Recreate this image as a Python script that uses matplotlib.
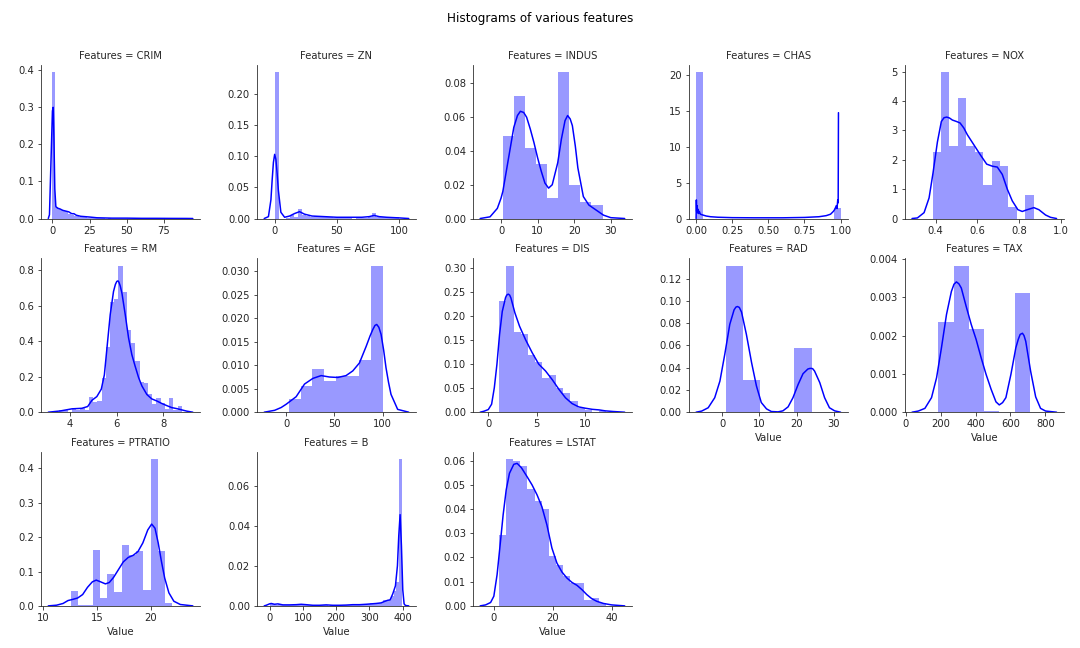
import numpy as np
import matplotlib
matplotlib.use("Agg")
import matplotlib.pyplot as plt
import seaborn as sns

# histogram: (min, max) of the data and the density of each bin
crim_range = (0.006, 88.976)
crim_hist = [0.395, 0.03, 0.026, 0.022, 0.02, 0.018, 0.012, 0.01, 0.007, 0.006,
             0.004, 0.003, 0.003, 0.002, 0.002, 0.002, 0.001, 0.001, 0.001, 0.001,
             0.0, 0.001, 0.0, 0.0, 0.0, 0.0, 0.0, 0.0, 0.0, 0.0,
             0.0, 0.0, 0.0, 0.0, 0.0, 0.0, 0.0, 0.0, 0.0, 0.0,
             0.0, 0.0, 0.0, 0.0, 0.0, 0.0, 0.0, 0.0, 0.0, 0.001]
crim_kde_x = [-2.8, -2.0, -1.0, 0.0, 0.5, 1.0, 1.6, 2.3, 3.5, 5.0, 7.0, 9.0, 11.0, 13.0,
              14.5, 16.0, 19.0, 25.0, 30.0, 40.0, 50.0, 60.0, 70.0, 80.0, 90.0, 94.5]
crim_kde_y = [0.0, 0.01, 0.15, 0.29, 0.30, 0.22, 0.08, 0.032, 0.028, 0.026, 0.022, 0.02, 0.018, 0.013,
              0.013, 0.009, 0.006, 0.004, 0.002, 0.001, 0.001, 0.0005, 0.0005, 0.0003, 0.0002, 0.0]

zn_range = (0.0, 100.0)
zn_hist = [0.235, 0.0, 0.0, 0.001, 0.006, 0.002, 0.016, 0.006, 0.004, 0.003,
           0.004, 0.002, 0.002, 0.002, 0.002, 0.001, 0.001, 0.003, 0.002, 0.001,
           0.0, 0.001, 0.001, 0.001, 0.002, 0.009, 0.002, 0.002, 0.002, 0.002,
           0.002, 0.002]
zn_kde_x = [-8.4, -5, -3, -2, -1, 0, 1, 2, 3, 5, 8, 12, 16, 20, 24, 30, 40, 50, 60, 70, 76, 80,
            84, 90, 100, 107.8]
zn_kde_y = [0, 0.003, 0.03, 0.062, 0.09, 0.103, 0.095, 0.072, 0.045, 0.01, 0.002, 0.004, 0.008,
            0.011, 0.007, 0.004, 0.003, 0.002, 0.002, 0.002, 0.003, 0.005, 0.003, 0.002, 0.001, 0]

indus_range = (0.46, 27.74)
indus_hist = [0.049, 0.0725, 0.042, 0.032, 0.012, 0.0867, 0.0196, 0.0096, 0.0078]
indus_kde_x = [-5.7, -3, -1, 0, 0.5, 2, 3.5, 4.5, 5.3, 6.2, 7, 8, 9, 10, 11, 12, 13, 14, 15.5,
               16.5, 17.5, 18.2, 18.9, 19.5, 20.3, 21, 22.5, 24, 26, 28, 30, 33.8]
indus_kde_y = [0, 0.001, 0.006, 0.012, 0.016, 0.035, 0.054, 0.061, 0.0635, 0.0628, 0.06, 0.053,
               0.045, 0.036, 0.028, 0.021, 0.018, 0.02, 0.033, 0.047, 0.058, 0.061, 0.059,
               0.055, 0.043, 0.03, 0.013, 0.008, 0.005, 0.002, 0.0005, 0]

chas_range = (0.0, 1.0)
chas_hist = [20.47] + [0.0] * 20 + [1.52]
chas_kde_x = [0.0, 0.002, 0.004, 0.007, 0.01, 0.013, 0.017, 0.022, 0.03, 0.045, 0.07, 0.1,
              0.15, 0.25, 0.4, 0.6, 0.75, 0.85, 0.9, 0.93, 0.95, 0.96, 0.97, 0.975, 0.98,
              0.983, 0.985]
chas_kde_y = [0.0, 2.6, 1.0, 1.8, 0.8, 1.3, 0.7, 1.0, 0.6, 0.5, 0.35, 0.25,
              0.18, 0.12, 0.1, 0.1, 0.15, 0.25, 0.4, 0.6, 1.0, 1.3, 1.8, 1.4, 2.6,
              2.2, 14.8]

nox_range = (0.385, 0.871)
nox_hist = [2.27, 4.98, 2.48, 4.1, 2.48, 2.27, 1.13, 1.94, 1.8, 0.38, 0.0, 0.79]
nox_kde_x = [0.286, 0.312, 0.344, 0.368, 0.387, 0.408, 0.427, 0.44, 0.453, 0.466, 0.48, 0.5,
             0.517, 0.535, 0.552, 0.584, 0.616, 0.645, 0.672, 0.696, 0.72, 0.744, 0.768, 0.795,
             0.816, 0.84, 0.872, 0.896, 0.928, 0.952, 0.981]
nox_kde_y = [0, 0.02, 0.2, 0.7, 1.55, 2.6, 3.3, 3.43, 3.45, 3.42, 3.35, 3.3, 3.25, 3.08,
             2.85, 2.5, 2.15, 1.85, 1.78, 1.75, 1.5, 1.0, 0.6, 0.3, 0.24, 0.3, 0.37, 0.3,
             0.12, 0.04, 0]

rm_range = (3.561, 8.78)
rm_hist = [0.011, 0.011, 0.0, 0.022, 0.011, 0.022, 0.011, 0.088, 0.06, 0.065,
           0.19, 0.37, 0.62, 0.64, 0.825, 0.68, 0.465, 0.39, 0.29, 0.17,
           0.165, 0.1, 0.047, 0.078, 0.05, 0.02, 0.078, 0.01, 0.034]
rm_kde_x = [3.09, 3.6, 4.1, 4.52, 4.77, 4.95, 5.16, 5.35, 5.48, 5.59, 5.73, 5.87, 5.95, 6.01,
            6.06, 6.1, 6.16, 6.23, 6.37, 6.51, 6.65, 6.79, 6.94, 7.08, 7.29, 7.5, 7.72, 7.93,
            8.14, 8.35, 8.57, 8.78, 8.99, 9.25]
rm_kde_y = [0, 0.007, 0.019, 0.022, 0.032, 0.067, 0.088, 0.13, 0.21, 0.36, 0.55, 0.68, 0.72,
            0.737, 0.74, 0.733, 0.71, 0.67, 0.55, 0.42, 0.325, 0.26, 0.195, 0.148, 0.1, 0.075,
            0.063, 0.049, 0.037, 0.026, 0.02, 0.013, 0.006, 0]

age_range = (2.9, 100.0)
age_hist = [0.0028, 0.0055, 0.0093, 0.0066, 0.0078, 0.0078, 0.0112, 0.0312]
age_kde_x = [-22.8, -12, -5.2, 0, 10.3, 19, 27.6, 36.2, 44.8, 53.4, 62, 69, 75.9, 82.8,
             87, 89.7, 92, 93.8, 96, 98.3, 101, 103.4, 106, 108.6, 115.5, 127]
age_kde_y = [0, 0.0004, 0.001, 0.0017, 0.0033, 0.006, 0.0072, 0.0078, 0.0075, 0.0074, 0.0078,
             0.0088, 0.0105, 0.014, 0.0163, 0.0176, 0.0185, 0.0187, 0.0181, 0.0166, 0.0132,
             0.0095, 0.0064, 0.0038, 0.0006, 0]

dis_range = (1.13, 12.13)
dis_hist = [0.232, 0.305, 0.168, 0.162, 0.12, 0.104, 0.0705, 0.077, 0.051, 0.041,
            0.0235, 0.0097, 0.004, 0.0014, 0.002]
dis_kde_x = [-0.84, -0.45, 0, 0.34, 0.62, 0.89, 1.16, 1.44, 1.78, 1.9, 2.05, 2.2, 2.33, 2.74,
             3.22, 3.84, 4.52, 5.2, 5.89, 6.58, 7.26, 7.95, 8.63, 9.32, 10.0, 10.7, 11.4,
             12.05, 12.9, 14.05]
dis_kde_y = [0, 0.002, 0.0055, 0.0166, 0.051, 0.1, 0.162, 0.21, 0.239, 0.244, 0.246, 0.244,
             0.238, 0.207, 0.179, 0.151, 0.124, 0.1, 0.086, 0.068, 0.048, 0.03, 0.018, 0.011,
             0.0083, 0.006, 0.0048, 0.0028, 0.0014, 0]

rad_range = (1.0, 24.0)
rad_hist = [0.1316, 0.029, 0.0, 0.0, 0.0573]
rad_kde_x = [-7.0, -5.5, -3.75, -2, -0.6, 0.7, 2.05, 3.2, 3.7, 4.1, 4.6, 5.2, 6.5, 7.9, 9.2,
             10.5, 11.9, 13.2, 15, 16.3, 17.7, 19, 20.4, 21.7, 23, 23.5, 23.9, 24.3, 24.8,
             26.2, 27.5, 28.8, 30.2, 31.8]
rad_kde_y = [0, 0.001, 0.004, 0.013, 0.028, 0.052, 0.079, 0.092, 0.0945, 0.095, 0.0942, 0.09,
             0.07, 0.0445, 0.0236, 0.0087, 0.003, 0.0006, 0.0003, 0.0012, 0.0048, 0.013,
             0.025, 0.0346, 0.0388, 0.0393, 0.0394, 0.0391, 0.037, 0.0266, 0.013, 0.004,
             0.0012, 0]

tax_range = (187.0, 711.0)
tax_hist = [0.00236, 0.00382, 0.00216, 0.00003, 0.0, 0.00312]
tax_kde_x = [35, 71, 109, 147, 176, 204, 233, 261, 276, 290, 304, 318, 346, 375, 403, 432, 460,
             489, 517, 536, 555, 574, 603, 631, 645, 656, 669, 678, 688, 716, 745, 773, 802, 865]
tax_kde_y = [0, 0.00003, 0.0001, 0.00038, 0.0009, 0.00168, 0.00255, 0.00315, 0.00334, 0.0034,
             0.00335, 0.00324, 0.00276, 0.00229, 0.0019, 0.00142, 0.00099, 0.0006, 0.00027,
             0.00019, 0.00025, 0.00038, 0.00099, 0.00168, 0.0019, 0.00203, 0.00206, 0.002,
             0.00185, 0.00107, 0.0004, 0.0001, 0.00003, 0]

ptratio_range = (12.6, 22.0)
ptratio_hist = [0.0435, 0.003, 0.003, 0.162, 0.023, 0.094, 0.039, 0.177, 0.148, 0.159,
                0.046, 0.426, 0.159, 0.007]
ptratio_kde_x = [10.5, 11.27, 11.87, 12.33, 12.78, 13.23, 13.69, 14.14, 14.59, 14.95, 15.35,
                 15.8, 16.16, 16.56, 17.0, 17.46, 17.92, 18.37, 18.82, 19.27, 19.73, 20.09,
                 20.4, 20.7, 21.0, 21.3, 21.69, 22.15, 22.75, 23.91]
ptratio_kde_y = [0, 0.002, 0.007, 0.0155, 0.019, 0.023, 0.033, 0.054, 0.07, 0.075, 0.07,
                 0.064, 0.068, 0.083, 0.105, 0.128, 0.141, 0.147, 0.158, 0.183, 0.221, 0.238,
                 0.226, 0.183, 0.129, 0.081, 0.038, 0.0135, 0.004, 0]

b_range = (0.32, 396.9)
b_hist = [0.0012, 0.0008, 0.0005, 0.0008, 0.0003, 0.0003, 0.0005, 0.0003, 0.0003, 0.0003,
          0.0005, 0.0008, 0.0005, 0.0003, 0.0003, 0.0003, 0.0, 0.0003, 0.0, 0.0003,
          0.0003, 0.0005, 0.0, 0.0003, 0.0003, 0.0, 0.0003, 0.0003, 0.0003, 0.0003,
          0.0005, 0.0005, 0.0005, 0.0005, 0.0008, 0.0008, 0.0008, 0.001, 0.0012, 0.001,
          0.0015, 0.0015, 0.002, 0.003, 0.003, 0.003, 0.005, 0.0075, 0.012, 0.073]
b_kde_x = [-16, -10, 0, 5, 15, 25, 40, 60, 80, 95, 110, 130, 150, 170, 190, 210, 230, 250,
           270, 290, 305, 320, 335, 345, 355, 362, 370, 378, 384, 388, 392, 396, 400, 404,
           408, 418]
b_kde_y = [0, 0.0003, 0.001, 0.0012, 0.0008, 0.001, 0.0005, 0.0005, 0.0006, 0.0008, 0.0006,
           0.0003, 0.0003, 0.0005, 0.0003, 0.0003, 0.0004, 0.0006, 0.0006, 0.0008, 0.001,
           0.0012, 0.0015, 0.0022, 0.0028, 0.003, 0.006, 0.01, 0.02, 0.035, 0.0455, 0.03,
           0.008, 0.001, 0.0002, 0]

lstat_range = (1.73, 37.97)
lstat_hist = [0.0292, 0.0605, 0.0597, 0.058, 0.0483, 0.0434, 0.0401, 0.0207, 0.0168, 0.0124,
              0.0093, 0.0093, 0.0025, 0.0032, 0.001]
lstat_kde_x = [-4.65, -2.8, -1.1, 0, 1.1, 2.25, 3.15, 4.2, 5.3, 6.76, 7.9, 9.35, 11.27, 12.96,
               14.65, 16.3, 18.0, 19.7, 21.4, 23.1, 24.8, 26.5, 28.2, 29.9, 31.5, 33.2, 34.9,
               37.2, 40, 44.4]
lstat_kde_y = [0, 0.0004, 0.0014, 0.004, 0.0129, 0.0266, 0.0376, 0.048, 0.0548, 0.0585, 0.0589,
               0.0571, 0.0534, 0.05, 0.0459, 0.041, 0.0335, 0.0239, 0.0177, 0.014, 0.0115,
               0.0097, 0.0085, 0.0067, 0.0047, 0.003, 0.0019, 0.001, 0.0004, 0]

features = ["CRIM", "ZN", "INDUS", "CHAS", "NOX", "RM", "AGE", "DIS", "RAD", "TAX",
            "PTRATIO", "B", "LSTAT"]
panels = [
    (crim_range, crim_hist, crim_kde_x, crim_kde_y),
    (zn_range, zn_hist, zn_kde_x, zn_kde_y),
    (indus_range, indus_hist, indus_kde_x, indus_kde_y),
    (chas_range, chas_hist, chas_kde_x, chas_kde_y),
    (nox_range, nox_hist, nox_kde_x, nox_kde_y),
    (rm_range, rm_hist, rm_kde_x, rm_kde_y),
    (age_range, age_hist, age_kde_x, age_kde_y),
    (dis_range, dis_hist, dis_kde_x, dis_kde_y),
    (rad_range, rad_hist, rad_kde_x, rad_kde_y),
    (tax_range, tax_hist, tax_kde_x, tax_kde_y),
    (ptratio_range, ptratio_hist, ptratio_kde_x, ptratio_kde_y),
    (b_range, b_hist, b_kde_x, b_kde_y),
    (lstat_range, lstat_hist, lstat_kde_x, lstat_kde_y),
]

sns.set_style("ticks")
fig, axes = plt.subplots(3, 5, figsize=(15, 9), dpi=72)
plt.subplots_adjust(left=0.038, right=0.985, bottom=0.065, top=0.90, wspace=0.358, hspace=0.26)

for i, ax in enumerate(axes.flat):
    if i >= len(features):
        ax.set_visible(False)
        continue
    (lo, hi), dens, kx, ky = panels[i]
    edges = np.linspace(lo, hi, len(dens) + 1)
    ax.bar(edges[:-1], dens, width=np.diff(edges), align="edge",
           color="blue", alpha=0.4, linewidth=0)
    ax.plot(kx, ky, color="blue", lw=1.5)
    ax.set_title("Features = " + features[i], fontsize=10)
    # bottom panel of each column gets the x label
    if i + 5 >= len(features):
        ax.set_xlabel("Value", fontsize=10)
    sns.despine(ax=ax)

fig.suptitle("Histograms of various features", fontsize=12, y=0.982, color="black")
plt.savefig("out.png", dpi=72)
